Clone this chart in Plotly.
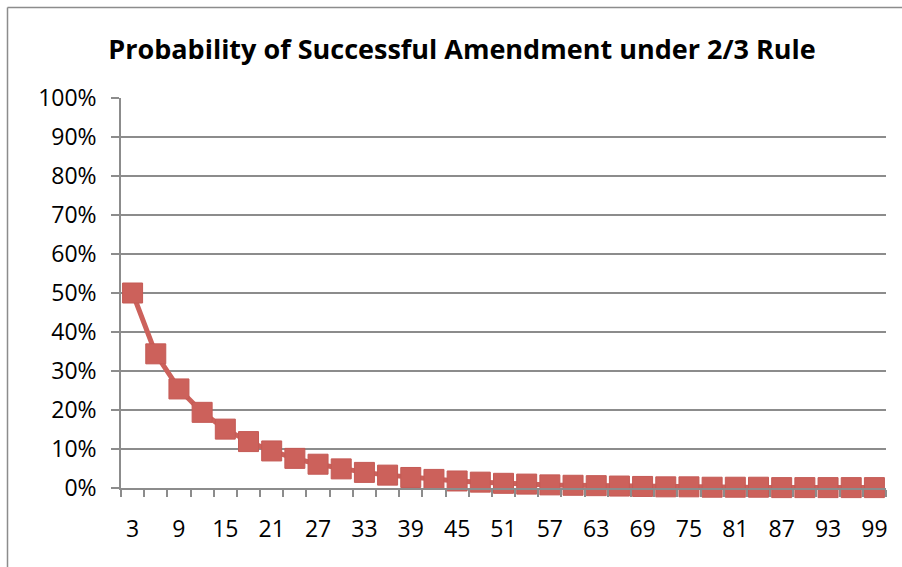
import plotly.graph_objects as go

# Number of voters (categories)
categories = [3, 6, 9, 12, 15, 18, 21, 24, 27, 30, 33, 36, 39, 42, 45, 48, 51,
              54, 57, 60, 63, 66, 69, 72, 75, 78, 81, 84, 87, 90, 93, 96, 99]
# Probability of successful amendment
probability = [0.500, 0.344, 0.254, 0.194, 0.151, 0.119, 0.095, 0.076, 0.061,
               0.049, 0.040, 0.033, 0.027, 0.022, 0.018, 0.015, 0.012, 0.010,
               0.008, 0.007, 0.006, 0.005, 0.004, 0.003, 0.003, 0.002, 0.002,
               0.002, 0.001, 0.001, 0.001, 0.001, 0.001]
tick_labels = [str(c) for c in categories[::2]]
y_ticks = [i / 10 for i in range(11)]

red = "#CC615B"
grid = "#8C8C8C"
font_family = "Open Sans, Liberation Sans, sans-serif"

fig = go.Figure()
fig.add_trace(go.Scatter(
    x=categories, y=probability, mode="lines+markers",
    line=dict(color=red, width=5),
    marker=dict(symbol="square", size=20, color=red,
                line=dict(color="#C45A55", width=1)),
    cliponaxis=False, showlegend=False,
))

step = categories[1] - categories[0]
minor_vals = [c - step / 2 for c in categories] + [categories[-1] + step / 2]

W, H = 902, 567
L, R, T, B = 121, 16, 98, 79
pw, ph = W - L - R, H - T - B
bx0 = (7.5 - L) / pw
by1 = 1 + (T - 7.5) / ph
border = dict(color="#8C8C8C", width=1.5)
fig.update_layout(
    width=W, height=H,
    paper_bgcolor="white", plot_bgcolor="white",
    margin=dict(l=L, r=R, t=T, b=B, autoexpand=False),
    title=dict(text="<b>Probability of Successful Amendment under 2/3 Rule</b>",
               x=462 / W, xref="container", xanchor="center",
               y=1 - 50 / H, yanchor="middle",
               font=dict(family=font_family, size=27, color="black")),
    font=dict(family=font_family, size=23, color="black"),
    xaxis=dict(
        range=[categories[0] - step / 2, categories[-1] + step / 2],
        tickvals=categories[::2], ticktext=tick_labels,
        ticks="", showgrid=False, zeroline=False,
        showline=True, linecolor=grid, linewidth=1.5,
        ticklabelstandoff=20,
        minor=dict(tickvals=minor_vals, ticks="outside", ticklen=7,
                   tickcolor=grid, tickwidth=1.5, showgrid=False),
    ),
    yaxis=dict(
        range=[0, 1], tickvals=y_ticks, tickformat=".0%",
        ticks="outside", ticklen=8, tickcolor=grid, tickwidth=1.5,
        showgrid=True, gridcolor=grid, gridwidth=1.5, zeroline=False,
        showline=True, linecolor=grid, linewidth=1.5,
        ticklabelstandoff=10,
    ),
    shapes=[
        dict(type="line", xref="paper", yref="paper",
             x0=bx0, x1=1.1, y0=by1, y1=by1, line=border, layer="below"),
        dict(type="line", xref="paper", yref="paper",
             x0=bx0, x1=bx0, y0=-0.3, y1=by1, line=border, layer="below"),
    ],
)

fig.write_html(
    "out.html",
    config={"displayModeBar": False},
    post_script="document.body.style.margin='0';document.body.style.overflow='hidden';",
)
